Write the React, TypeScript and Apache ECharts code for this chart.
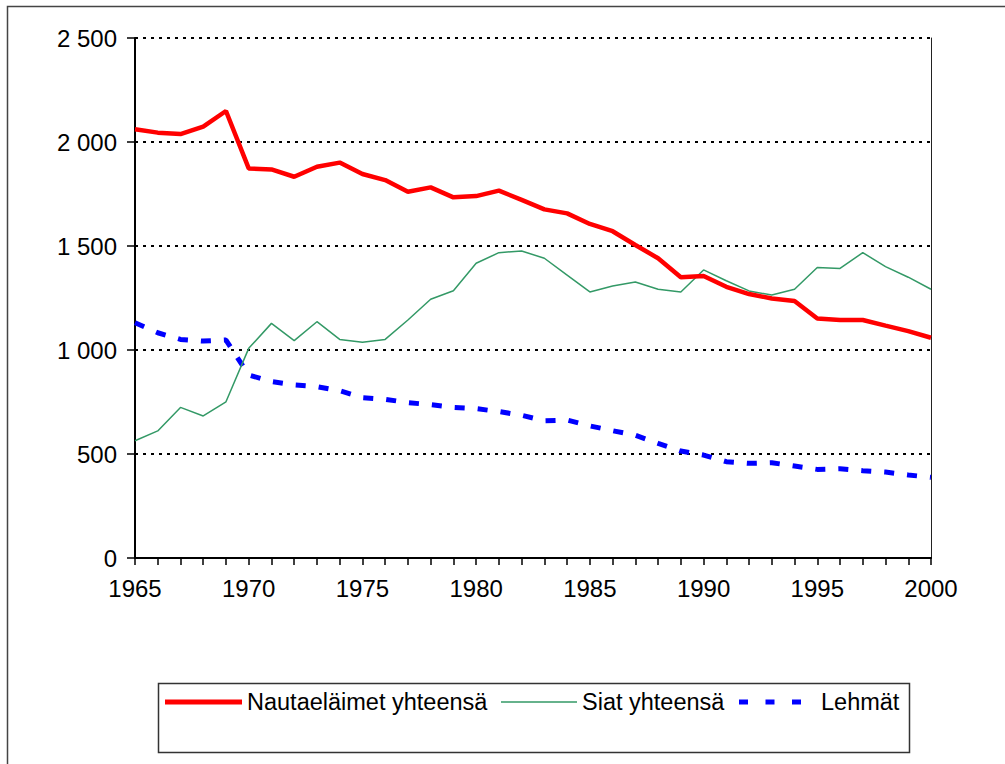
import React, { useEffect, useRef } from "react";
import * as echarts from "echarts";

const years: string[] = [];
for (let y = 1965; y <= 2000; y++) years.push(String(y));

const nautaeläimet = [
  2061, 2045, 2038, 2074, 2149, 1873, 1868, 1833, 1881, 1901,
  1846, 1817, 1761, 1782, 1734, 1740, 1766, 1722, 1676, 1657,
  1606, 1571, 1505, 1441, 1350, 1356, 1304, 1269, 1248, 1236,
  1151, 1144, 1144, 1117, 1091, 1059,
];
const siat = [
  564, 611, 724, 683, 751, 1008, 1128, 1045, 1136, 1051,
  1037, 1051, 1144, 1244, 1285, 1417, 1468, 1476, 1441, 1360,
  1279, 1308, 1327, 1292, 1279, 1385, 1333, 1284, 1264, 1292,
  1397, 1392, 1468, 1401, 1350, 1292,
];
const lehmat = [
  1131, 1083, 1051, 1043, 1048, 880, 848, 832, 824, 804,
  771, 763, 747, 737, 724, 718, 704, 686, 660, 663,
  635, 612, 590, 551, 514, 495, 463, 455, 458, 442,
  426, 429, 420, 413, 399, 388,
];
const seriesNames = ["Nautaeläimet yhteensä", "Siat yhteensä", "Lehmät"];

const FONT = "Liberation Sans, Arial, sans-serif";

export default function App() {
  const ref = useRef<HTMLDivElement>(null);
  useEffect(() => {
    if (!ref.current) return;
    const chart = echarts.init(ref.current, null, { renderer: "svg" });
    const legendText = { fontFamily: FONT, fontSize: 23.5, color: "#000" };
    const legendItemStyle = { borderWidth: 0 };
    chart.setOption({
      animation: false,
      backgroundColor: "#fff",
      grid: { left: 135, right: 74, top: 38, bottom: 206, containLabel: false },
      xAxis: {
        type: "category",
        data: years,
        boundaryGap: false,
        axisLine: { lineStyle: { color: "#000", width: 2 } },
        axisTick: { show: true, interval: 0, length: 7, lineStyle: { color: "#000", width: 1.5 } },
        axisLabel: {
          interval: 4,
          margin: 18,
          fontFamily: FONT,
          fontSize: 24,
          color: "#000",
        },
        splitLine: { show: false },
      },
      yAxis: [
        {
          type: "value",
          min: 0,
          max: 2500,
          interval: 500,
          axisLine: { show: true, lineStyle: { color: "#000", width: 2 } },
          axisTick: { show: true, length: 8, lineStyle: { color: "#000", width: 1.5 } },
          axisLabel: {
            margin: 18,
            fontFamily: FONT,
            fontSize: 24,
            color: "#000",
            formatter: (v: number) => {
              const s = String(v);
              return s.length > 3 ? s.slice(0, s.length - 3) + " " + s.slice(-3) : s;
            },
          },
          splitLine: {
            show: true,
            lineStyle: { color: "#000", width: 2, type: [3, 5] },
          },
        },
        {
          type: "value",
          min: 0,
          max: 2500,
          interval: 500,
          position: "right",
          axisLine: { show: true, lineStyle: { color: "#222", width: 1 } },
          axisTick: { show: false },
          axisLabel: { show: false },
          splitLine: { show: false },
        },
      ],
      legend: [
        {
          data: [{ name: seriesNames[0], icon: "rect" }],
          left: 165,
          top: 690,
          itemWidth: 77,
          itemHeight: 5,
          padding: 0,
          itemStyle: legendItemStyle,
          textStyle: legendText,
        },
        {
          data: [{ name: seriesNames[1], icon: "rect" }],
          left: 501,
          top: 690,
          itemWidth: 76,
          itemHeight: 1.5,
          padding: 0,
          itemStyle: legendItemStyle,
          textStyle: legendText,
        },
        {
          data: [
            {
              name: seriesNames[2],
              icon: "path://M0,0H9V5H0ZM26.5,0H35.5V5H26.5ZM53,0H62V5H53Z",
            },
          ],
          left: 739,
          top: 690,
          itemWidth: 62,
          itemHeight: 5,
          padding: 0,
          itemStyle: legendItemStyle,
          textStyle: { ...legendText, padding: [0, 0, 0, 15] },
        },
      ],
      graphic: [
        {
          type: "rect",
          shape: { x: 7.5, y: 6.5, width: 1010, height: 800 },
          style: { fill: "none", stroke: "#444", lineWidth: 1.5 },
          silent: true,
        },
        {
          type: "rect",
          shape: { x: 158.5, y: 683.5, width: 751, height: 69 },
          style: { fill: "none", stroke: "#333", lineWidth: 1.5 },
          silent: true,
        },
      ],
      series: [
        {
          name: seriesNames[0],
          type: "line",
          data: nautaeläimet,
          symbol: "none",
          lineStyle: { color: "#ff0000", width: 4.5 },
          itemStyle: { color: "#ff0000" },
          z: 4,
        },
        {
          name: seriesNames[1],
          type: "line",
          data: siat,
          symbol: "none",
          lineStyle: { color: "#339966", width: 1.5 },
          itemStyle: { color: "#339966" },
          z: 3,
        },
        {
          name: seriesNames[2],
          type: "line",
          data: lehmat,
          symbol: "none",
          lineStyle: { color: "#0000ff", width: 5, type: [10, 13] },
          itemStyle: { color: "#0000ff" },
          z: 2,
        },
      ],
    });
    return () => chart.dispose();
  }, []);
  return (
    <div
      ref={ref}
      style={{ position: "fixed", left: 0, top: 0, width: 1005, height: 764 }}
    />
  );
}
